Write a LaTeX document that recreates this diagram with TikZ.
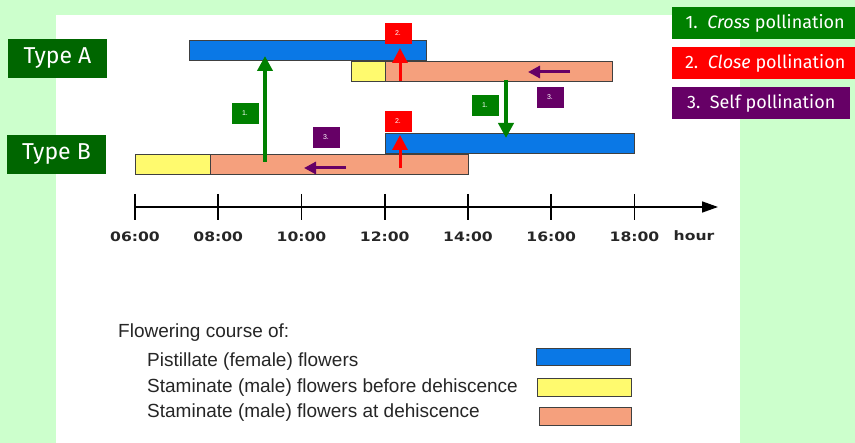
\documentclass[tikz,border=0pt]{standalone}
\usepackage{fontspec}
\setmainfont{Liberation Sans}
\newfontfamily\comicfont{Fira Sans}
\newfontfamily\axisfont{DejaVu Sans}
\usetikzlibrary{positioning, arrows.meta}

\definecolor{bggreen}{RGB}{204,255,204}
\definecolor{typegreen}{RGB}{0,102,0}
\definecolor{crossgreen}{RGB}{0,128,0}
\definecolor{selfpurple}{RGB}{102,0,102}
\definecolor{pistil}{RGB}{10,120,230}
\definecolor{predeh}{RGB}{255,250,110}
\definecolor{atdeh}{RGB}{245,160,125}

\newcommand{\axislabel}[1]{\scalebox{1.2}[1]{#1}}

\begin{document}
\begin{tikzpicture}[x=1pt, y=-1pt,
    bar/.style={draw=black!75, line width=1.2pt, inner sep=0pt, anchor=north west, minimum height=20pt},
    typebox/.style={fill=typegreen, text=white, font=\comicfont\fontsize{23}{23}\selectfont, minimum width=99pt, minimum height=39pt},
    keybox/.style={text=white, font=\comicfont\fontsize{18}{18}\selectfont, minimum height=32pt, anchor=west},
    tag/.style={text=white, font=\fontsize{7}{7}\selectfont, minimum width=27pt, minimum height=21pt, inner sep=0pt},
    pollarrow/.style={-{Triangle[width=15pt, length=15pt]}, line width=4pt},
    selfarrow/.style={-{Triangle[width=12pt, length=12pt]}, line width=3pt, selfpurple},
    axistext/.style={font=\axisfont\bfseries\fontsize{13}{13}\selectfont, text=black!85},
    legtext/.style={anchor=base west, font=\fontsize{19}{19}\selectfont, text=black!85, inner sep=0pt}]
  \useasboundingbox (0,0) rectangle (855,443);
  \fill[bggreen] (0,0) rectangle (855,443);
  \fill[white] (56,15) rectangle (740,443);

  % type labels
  \node[typebox] (typeA) at (57.5,58.5) {Type A};
  \node[typebox] (typeB) at (56.5,154.5) {Type B};

  % flowering bars
  \node[bar, fill=pistil, minimum width=237pt] (Apist) at (189,40) {};
  \node[bar, fill=predeh, minimum width=34pt] (Apre) at (351,61) {};
  \node[bar, fill=atdeh, minimum width=227pt] (Aat) at (385,61) {};
  \node[bar, fill=pistil, minimum width=249pt] (Bpist) at (385,133) {};
  \node[bar, fill=predeh, minimum width=75pt] (Bpre) at (135,154) {};
  \node[bar, fill=atdeh, minimum width=258pt] (Bat) at (210,154) {};

  % time axis
  \draw[line width=1.6pt, -{Triangle[width=11pt, length=16pt]}] (135,207) -- (718,207);
  \foreach \t [count=\i from 0] in {06:00,08:00,10:00,12:00,14:00,16:00,18:00} {
    \draw[line width=1.6pt] (135+83.25*\i,194) -- (135+83.25*\i,220);
    \node[axistext] (tick\i) at (135+83.25*\i,237) {\axislabel{\t}};
  }
  \node[axistext] (hour) at (694,236) {\axislabel{hour}};

  % pollination arrows
  \coordinate (c1s) at (265,162); \coordinate (c1e) at (265,56);
  \coordinate (c2s) at (506,80);  \coordinate (c2e) at (506,138);
  \coordinate (r1s) at (400,81);  \coordinate (r1e) at (400,48);
  \coordinate (r2s) at (400,168); \coordinate (r2e) at (400,135);
  \coordinate (s1s) at (570,72);  \coordinate (s1e) at (528,72);
  \coordinate (s2s) at (346,168); \coordinate (s2e) at (304,168);
  \draw[pollarrow, crossgreen] (c1s) -- (c1e);
  \draw[pollarrow, crossgreen] (c2s) -- (c2e);
  \draw[pollarrow, red, line width=3pt] (r1s) -- (r1e);
  \draw[pollarrow, red, line width=3pt] (r2s) -- (r2e);
  \draw[selfarrow] (s1s) -- (s1e);
  \draw[selfarrow] (s2s) -- (s2e);

  % small tags
  \node[tag, fill=crossgreen] (t1a) at (245,113.5) {1.};
  \node[tag, fill=crossgreen] (t1b) at (485,105.5) {1.};
  \node[tag, fill=red] (t2a) at (398,33.5) {2.};
  \node[tag, fill=red] (t2b) at (398,121.5) {2.};
  \node[tag, fill=selfpurple] (t3a) at (326,137.5) {3.};
  \node[tag, fill=selfpurple] (t3b) at (550,97.5) {3.};

  % key
  \node[keybox, fill=crossgreen, minimum width=186pt] (k1) at (672,23) {1.~~\textit{Cross} pollination};
  \node[keybox, fill=red, minimum width=186pt] (k2) at (672,63) {2.~~\textit{Close} pollination};
  \node[keybox, fill=selfpurple, minimum width=178pt] (k3) at (672,103) {3.~~Self pollination};

  % legend
  \node[legtext] (legtitle) at (118,338) {Flowering course of:};
  \node[legtext] (leg1) at (147,367) {Pistillate (female) flowers};
  \node[legtext] (leg2) at (147,393) {Staminate (male) flowers before dehiscence};
  \node[legtext] (leg3) at (147,418) {Staminate (male) flowers at dehiscence};
  \node[bar, fill=pistil, minimum width=94pt, minimum height=17pt] (sw1) at (536,348) {};
  \node[bar, fill=predeh, minimum width=94pt, minimum height=18pt] (sw2) at (537,378) {};
  \node[bar, fill=atdeh, minimum width=92pt, minimum height=18pt] (sw3) at (539,407) {};
\end{tikzpicture}
\end{document}
